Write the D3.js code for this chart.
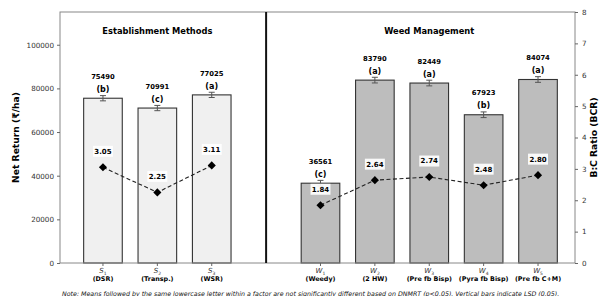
<!DOCTYPE html>
<html>
<head>
<meta charset="utf-8">
<script src="https://cdn.jsdelivr.net/npm/d3@7"></script>
<style>
  body { margin: 0; background: #fff; }
  svg text { font-family: "DejaVu Sans", sans-serif; }
</style>
</head>
<body>
<div id="chart"></div>
<script>
// chart data
var codes = ["S", "S", "S", "W", "W", "W", "W", "W"];
var subs = ["1", "2", "3", "1", "2", "3", "4", "5"];
var names = ["(DSR)", "(Transp.)", "(WSR)", "(Weedy)", "(2 HW)", "(Pre fb Bisp)", "(Pyra fb Bisp)", "(Pre fb C+M)"];
var slots = [0, 1, 2, 4, 5, 6, 7, 8];
var netReturn = [75490, 70991, 77025, 36561, 83790, 82449, 67923, 84074];
var lsd = [1200, 1200, 1200, 1300, 1300, 1300, 1300, 1300];
var letters = ["(b)", "(c)", "(a)", "(c)", "(a)", "(a)", "(b)", "(a)"];
var bcr = [3.05, 2.25, 3.11, 1.84, 2.64, 2.74, 2.48, 2.80];
var groups = ["Establishment Methods", "Weed Management"];
var leftTicks = [0, 20000, 40000, 60000, 80000, 100000];
var rightTicks = [0, 1, 2, 3, 4, 5, 6, 7, 8];

var W = 604, H = 296;
var m = {left: 60, right: 29, top: 12, bottom: 33};

var svg = d3.select("#chart").append("svg")
  .attr("width", W).attr("height", H);

var x = d3.scaleLinear().domain([-0.79, 8.68]).range([m.left, W - m.right]);
var y = d3.scaleLinear().domain([0, 115000]).range([H - m.bottom, m.top]);
var y2 = d3.scaleLinear().domain([0, 8]).range([H - m.bottom, m.top]);
var bw = x(0.71) - x(0);

var data = netReturn.map(function(v, i) {
  return {v: v, e: lsd[i], s: slots[i], l: letters[i], b: bcr[i], g: i < 3 ? 0 : 1, i: i};
});

// bars
svg.selectAll("rect.bar").data(data).enter().append("rect")
  .attr("class", "bar")
  .attr("x", function(d) { return x(d.s) - bw / 2; })
  .attr("y", function(d) { return y(d.v); })
  .attr("width", bw)
  .attr("height", function(d) { return y(0) - y(d.v); })
  .attr("fill", function(d) { return d.g == 0 ? "#f0f0f0" : "#bdbdbd"; })
  .attr("stroke", "#333").attr("stroke-width", 1.1);

// error bars
var eb = svg.selectAll("g.err").data(data).enter().append("g").attr("stroke", "#555").attr("stroke-width", 1);
eb.append("line")
  .attr("x1", function(d) { return x(d.s); }).attr("x2", function(d) { return x(d.s); })
  .attr("y1", function(d) { return y(d.v - d.e); }).attr("y2", function(d) { return y(d.v + d.e); });
[-1, 1].forEach(function(k) {
  eb.append("line")
    .attr("x1", function(d) { return x(d.s) - 3; }).attr("x2", function(d) { return x(d.s) + 3; })
    .attr("y1", function(d) { return y(d.v + k * d.e); }).attr("y2", function(d) { return y(d.v + k * d.e); });
});

// letters and values
svg.selectAll("text.let").data(data).enter().append("text")
  .attr("x", function(d) { return x(d.s); })
  .attr("y", function(d) { return y(d.v + d.e) - 3.5; })
  .attr("text-anchor", "middle").attr("font-size", 8).attr("font-weight", "bold")
  .text(function(d) { return d.l; });
svg.selectAll("text.val").data(data).enter().append("text")
  .attr("x", function(d) { return x(d.s); })
  .attr("y", function(d) { return y(d.v + d.e) - 16.5; })
  .attr("text-anchor", "middle").attr("font-size", 6.8).attr("font-weight", "bold")
  .text(function(d) { return d.v; });

// frame
svg.append("rect").attr("x", m.left).attr("y", m.top)
  .attr("width", W - m.left - m.right).attr("height", H - m.top - m.bottom)
  .attr("fill", "none").attr("stroke", "#888").attr("stroke-width", 1);

// divider
svg.append("line").attr("x1", x(3)).attr("x2", x(3)).attr("y1", m.top).attr("y2", H - m.bottom)
  .attr("stroke", "#111").attr("stroke-width", 2);

// group titles
[1, 6].forEach(function(c, gi) {
  svg.append("text").attr("x", x(c)).attr("y", 34)
    .attr("text-anchor", "middle").attr("font-size", 8.3).attr("font-weight", "bold")
    .text(groups[gi]);
});

// BCR line
var line = d3.line().x(function(d) { return x(d.s); }).y(function(d) { return y2(d.b); });
[0, 1].forEach(function(g) {
  svg.append("path").datum(data.filter(function(d) { return d.g == g; }))
    .attr("d", line).attr("fill", "none").attr("stroke", "#222")
    .attr("stroke-width", 1.1).attr("stroke-dasharray", "4,2.5");
});
svg.selectAll("path.dia").data(data).enter().append("path")
  .attr("d", d3.symbol().type(d3.symbolDiamond2).size(42))
  .attr("transform", function(d) { return "translate(" + x(d.s) + "," + y2(d.b) + ")"; })
  .attr("fill", "#000");

// BCR labels with white boxes
var bl = svg.selectAll("g.bl").data(data).enter().append("g")
  .attr("transform", function(d) { return "translate(" + x(d.s) + "," + (y2(d.b) - 16) + ")"; });
bl.append("rect").attr("x", -10).attr("y", -5.5).attr("width", 20).attr("height", 11)
  .attr("fill", "#fff").attr("opacity", 0.9);
bl.append("text").attr("text-anchor", "middle").attr("dy", "0.35em")
  .attr("font-size", 7).attr("font-weight", "bold")
  .text(function(d) { return d.b.toFixed(2); });

// left axis
var la = svg.append("g").attr("transform", "translate(" + m.left + ",0)")
  .call(d3.axisLeft(y).tickValues(leftTicks).tickFormat(d3.format("d")).tickSize(3).tickPadding(3));
la.select(".domain").remove();
la.selectAll("text").attr("font-size", 7.2).attr("fill", "#333").style("font-family", "DejaVu Sans");
la.selectAll("line").attr("stroke", "#666");

// right axis
var ra = svg.append("g").attr("transform", "translate(" + (W - m.right) + ",0)")
  .call(d3.axisRight(y2).tickValues(rightTicks).tickSize(3).tickPadding(4));
ra.select(".domain").remove();
ra.selectAll("text").attr("font-size", 7.2).attr("fill", "#333").style("font-family", "DejaVu Sans");
ra.selectAll("line").attr("stroke", "#666");

// x tick labels
var xt = svg.selectAll("g.xt").data(data).enter().append("g")
  .attr("transform", function(d) { return "translate(" + x(d.s) + "," + (H - m.bottom) + ")"; });
xt.append("line").attr("y1", 0).attr("y2", 3).attr("stroke", "#666");
var t1 = xt.append("text").attr("y", 10).attr("text-anchor", "middle").attr("font-size", 7).attr("fill", "#333");
t1.append("tspan").attr("font-style", "italic").text(function(d) { return codes[d.i]; });
t1.append("tspan").attr("font-size", 4.5).attr("dy", 1.5).text(function(d) { return subs[d.i]; });
xt.append("text").attr("y", 18).attr("text-anchor", "middle").attr("font-size", 6.4).attr("font-weight", "bold")
  .text(function(d) { return names[d.i]; });

// axis titles
svg.append("text").attr("transform", "translate(19," + ((m.top + H - m.bottom) / 2) + ") rotate(-90)")
  .attr("text-anchor", "middle").attr("font-size", 9.2).attr("font-weight", "bold")
  .text("Net Return (₹/ha)");
svg.append("text").attr("transform", "translate(597," + ((m.top + H - m.bottom) / 2) + ") rotate(-90)")
  .attr("text-anchor", "middle").attr("font-size", 9.2).attr("font-weight", "bold")
  .text("B:C Ratio (BCR)");

// note
svg.append("text").attr("x", 62).attr("y", 295.5).attr("font-size", 6.3).attr("font-style", "italic").attr("fill", "#111")
  .text("Note: Means followed by the same lowercase letter within a factor are not significantly different based on DNMRT (p<0.05). Vertical bars indicate LSD (0.05).");
</script>
</body>
</html>
